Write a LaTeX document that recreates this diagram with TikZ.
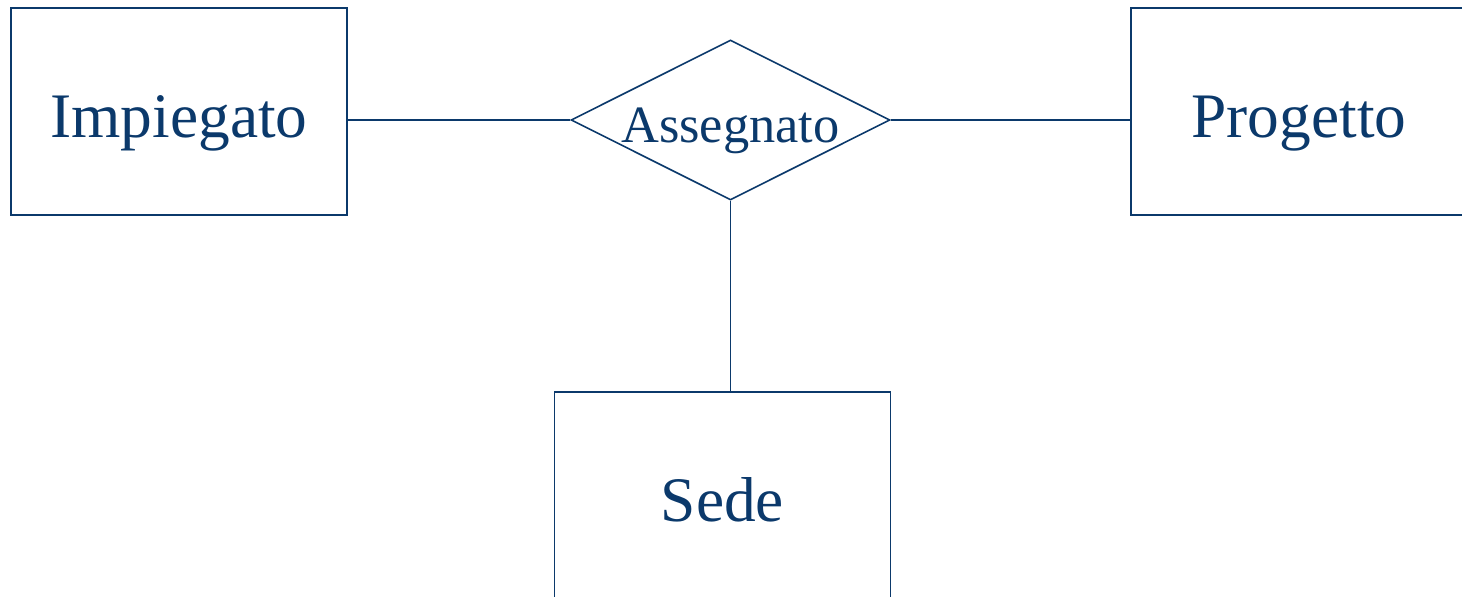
\documentclass[tikz,border=0pt]{standalone}
\usepackage{fontspec}
\setmainfont{Liberation Serif}
\usetikzlibrary{shapes.geometric}
\definecolor{erblue}{RGB}{11,57,107}

\begin{document}
\begin{tikzpicture}[x=0.5pt, y=-0.5pt, line width=0.8pt,
    entity/.style={draw=erblue, text=erblue, rectangle, minimum width=168pt, minimum height=103.5pt,
        inner sep=0pt, font=\fontsize{31.7}{36}\selectfont, text height=33pt, text depth=6.5pt},
    relation/.style={draw=erblue, text=erblue, diamond, aspect=2, minimum width=159.5pt, minimum height=80pt,
        inner sep=0pt, font=\fontsize{26.2}{30}\selectfont, text height=23pt, text depth=0pt}
    ]
    \useasboundingbox (0,0) rectangle (1462,597);

    \node[entity] (imp) at (179,111.5) {Impiegato};
    \node[entity] (prog) at (1299,111.5) {Progetto};
    \node[entity] (sede) at (722.5,495.5) {Sede};
    \node[relation] (rel) at (730.5,120) {Assegnato};

    \draw[erblue] (rel.west -| imp.east) -- (rel.west);
    \draw[erblue] (rel.east) -- (rel.east -| prog.west);
    \draw[erblue] (rel.south) -- (rel.south |- sede.north);
    %
\end{tikzpicture}
\end{document}
